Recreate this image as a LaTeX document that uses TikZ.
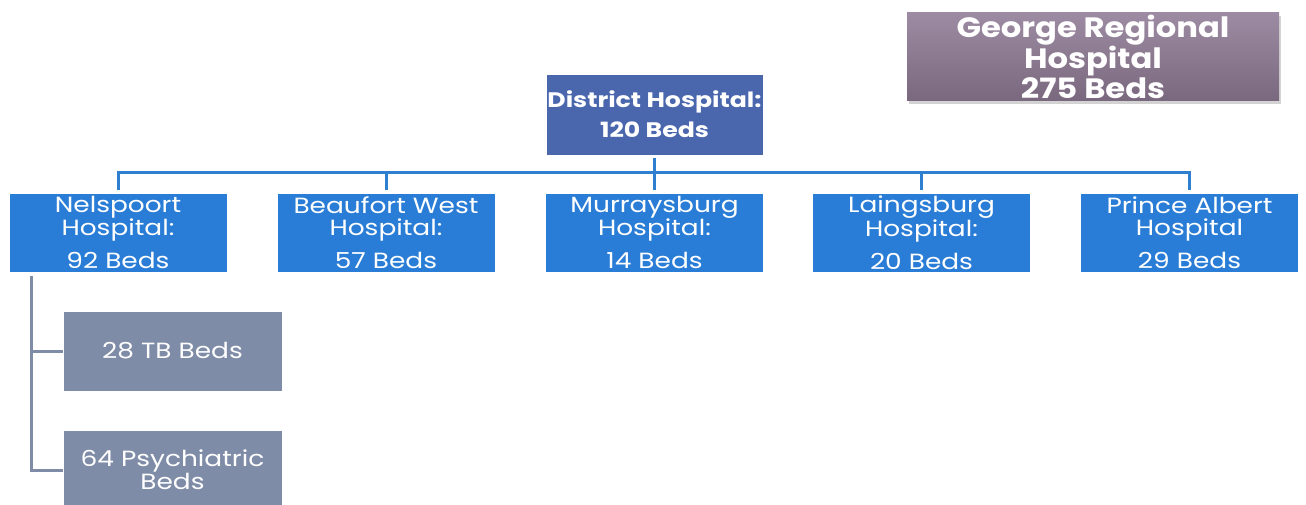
\documentclass[tikz,border=0pt]{standalone}
\usepackage{fontspec}
\setmainfont{Poppins}
\newfontfamily\wideface[FakeStretch=1.2]{Poppins}
\newfontfamily\widefaceg[FakeStretch=1.15]{Poppins}
\usetikzlibrary{shadows}
\definecolor{childblue}{HTML}{2A7DD6}
\definecolor{lineblue}{HTML}{2F7FD0}
\definecolor{distblue}{HTML}{4A66AD}
\definecolor{georgetop}{HTML}{9C8BA2}
\definecolor{georgebot}{HTML}{7A687E}
\definecolor{subgrey}{HTML}{7F8CA7}
\tikzset{
  box/.style={draw=white, line width=0.6pt, text=white, align=center, inner sep=0pt},
  childbox/.style={box, fill=childblue, minimum width=218pt, minimum height=79pt,
     font=\wideface\fontsize{22}{22}\selectfont},
  distbox/.style={box, fill=distblue, minimum width=217pt, minimum height=81pt,
     font=\wideface\fontsize{21}{30}\selectfont\bfseries},
  georgebox/.style={box, draw=none, top color=georgetop, bottom color=georgebot,
     minimum width=372pt, minimum height=88pt,
     drop shadow={shadow xshift=2pt, shadow yshift=-3pt, opacity=0.35},
     font=\widefaceg\fontsize{28}{29.5}\selectfont\bfseries},
  subbox/.style={box, fill=subgrey, minimum width=219pt, minimum height=80pt,
     font=\wideface\fontsize{22}{23}\selectfont},
  bluelink/.style={draw=lineblue, line width=3pt},
  greylink/.style={draw=subgrey, line width=3pt},
}
\begin{document}
\begin{tikzpicture}[x=1pt,y=-1pt]
\useasboundingbox (0,0) rectangle (1306,505);
\clip (0,0) rectangle (1306,505);
% top nodes
\node[georgebox] (george) at (1093,57) {George Regional\\Hospital\\275 Beds};
\node[distbox] (dist) at (654.5,114.5) {District Hospital:\\120 Beds};
% children
\node[childbox] (nel) at (118,232.5) {Nelspoort\\Hospital:\\[11pt]92 Beds};
\node[childbox] (bw)  at (386,232.5) {Beaufort West\\Hospital:\\[11pt]57 Beds};
\node[childbox] (mur) at (654.5,232.5) {Murraysburg\\Hospital:\\[11pt]14 Beds};
\node[childbox] (lai) at (921.5,232.5) {Laingsburg\\Hospital:\\[11pt]20 Beds};
\node[childbox] (pa)  at (1189.5,232.5) {Prince Albert\\Hospital\\[11pt]29 Beds};
% sub nodes
\node[subbox] (tb)  at (172.5,351) {28 TB Beds};
\node[subbox] (psy) at (172.5,470) {64 Psychiatric\\Beds};
% blue connectors
\coordinate (bus) at (654.5,173);
\draw[bluelink, shorten <=3pt] (dist.south) -- (bus);
\draw[bluelink, shorten >=3pt] (bus) -- (mur.north);
\draw[bluelink, shorten <=3pt, shorten >=3pt, line join=miter]
   (nel.north) -- (nel.north |- bus) -- (pa.north |- bus) -- (pa.north);
\draw[bluelink, shorten >=3pt] (bw.north |- bus) -- (bw.north);
\draw[bluelink, shorten >=3pt] (lai.north |- bus) -- (lai.north);
% grey connectors
\coordinate (spine) at (31,276);
\draw[greylink] (spine) |- (psy.west);
\draw[greylink] (spine |- tb.west) -- (tb.west);
\end{tikzpicture}
\end{document}
